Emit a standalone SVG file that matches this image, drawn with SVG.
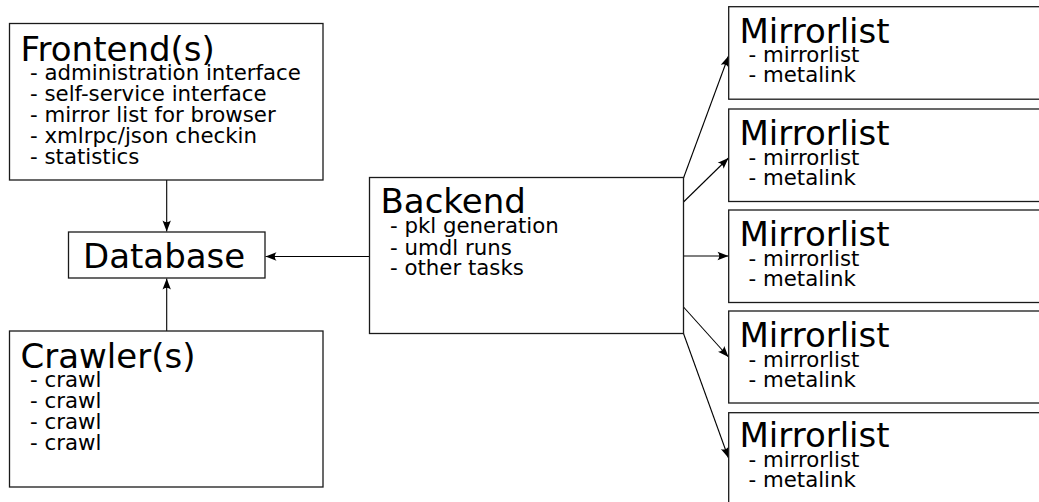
<svg xmlns="http://www.w3.org/2000/svg" width="1039" height="502" viewBox="0 0 1039 502">
<style>
.box{fill:#fff;stroke:#1a1a1a;stroke-width:1.3}
.t{font-family:"DejaVu Sans",sans-serif;font-size:34px;fill:#000}
.s{font-family:"DejaVu Sans",sans-serif;font-size:21.3px;fill:#000}
.c{fill:none;stroke:#000;stroke-width:1.1;marker-end:url(#arr)}
</style>
<defs>
<marker id="arr" viewBox="-12 -5 13 10" refX="0" refY="0" markerWidth="13" markerHeight="10" orient="auto" markerUnits="userSpaceOnUse">
<path d="M0,0 L-11,-4.2 Q-7.5,0 -11,4.2 Z" fill="#000"/>
</marker>
</defs>
<rect width="1039" height="502" fill="#fff"/>
<g id="connectors">
<path class="c" d="M166.7,180 V231.5"/>
<path class="c" d="M166.7,331 V278.5"/>
<path class="c" d="M369.5,256.5 H265.5"/>
<path class="c" d="M683.5,178 L728.5,56"/>
<path class="c" d="M683.5,202 L728.5,158"/>
<path class="c" d="M683.5,256 H728.5"/>
<path class="c" d="M683.5,307 L728.5,357"/>
<path class="c" d="M683.5,333.5 L728.5,458"/>
</g>
<g id="frontend">
<rect class="box" x="9.5" y="23.5" width="313.5" height="156.5"/>
<text class="t" x="20.5" y="60.7">Frontend(s)</text>
<text class="s" x="30" y="80">- administration interface</text>
<text class="s" x="30" y="101">- self-service interface</text>
<text class="s" x="30" y="122">- mirror list for browser</text>
<text class="s" x="30" y="143">- xmlrpc/json checkin</text>
<text class="s" x="30" y="164">- statistics</text>
</g>
<g id="database">
<rect class="box" x="68.5" y="232" width="196.5" height="46"/>
<text class="t" x="83" y="268">Database</text>
</g>
<g id="crawler">
<rect class="box" x="9.5" y="331" width="313.5" height="156"/>
<text class="t" x="20.5" y="368.3">Crawler(s)</text>
<text class="s" x="30" y="386.7">- crawl</text>
<text class="s" x="30" y="408.3">- crawl</text>
<text class="s" x="30" y="429.3">- crawl</text>
<text class="s" x="30" y="450">- crawl</text>
</g>
<g id="backend">
<rect class="box" x="369.5" y="177.5" width="314" height="156"/>
<text class="t" x="380.5" y="213.3">Backend</text>
<text class="s" x="390" y="233.3">- pkl generation</text>
<text class="s" x="390" y="255">- umdl runs</text>
<text class="s" x="390" y="275">- other tasks</text>
</g>
<g id="mirrorlist1">
<rect class="box" x="728.7" y="6.7" width="400" height="92.5"/>
<text class="t" x="739.5" y="43.3">Mirrorlist</text>
<text class="s" x="748.5" y="62.3">- mirrorlist</text>
<text class="s" x="748.5" y="82.3">- metalink</text>
</g>
<g id="mirrorlist2">
<rect class="box" x="728.7" y="109" width="400" height="92.5"/>
<text class="t" x="739.5" y="145">Mirrorlist</text>
<text class="s" x="748.5" y="165">- mirrorlist</text>
<text class="s" x="748.5" y="185">- metalink</text>
</g>
<g id="mirrorlist3">
<rect class="box" x="728.7" y="210" width="400" height="92.5"/>
<text class="t" x="739.5" y="246">Mirrorlist</text>
<text class="s" x="748.5" y="266">- mirrorlist</text>
<text class="s" x="748.5" y="286">- metalink</text>
</g>
<g id="mirrorlist4">
<rect class="box" x="728.7" y="311" width="400" height="92"/>
<text class="t" x="739.5" y="346.7">Mirrorlist</text>
<text class="s" x="748.5" y="366.7">- mirrorlist</text>
<text class="s" x="748.5" y="386.7">- metalink</text>
</g>
<g id="mirrorlist5">
<rect class="box" x="728.7" y="412.7" width="400" height="100"/>
<text class="t" x="739.5" y="446.7">Mirrorlist</text>
<text class="s" x="748.5" y="466.7">- mirrorlist</text>
<text class="s" x="748.5" y="486.7">- metalink</text>
</g>
</svg>
